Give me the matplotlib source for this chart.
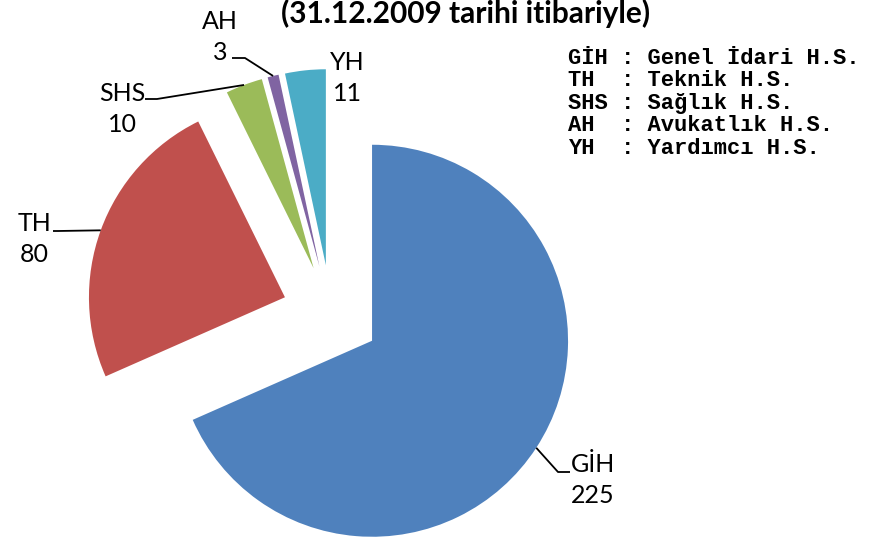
import numpy as np
import matplotlib.pyplot as plt

labels = ['GİH', 'TH', 'SHS', 'AH', 'YH']
values = [225, 80, 10, 3, 11]
colors = ['#4F81BD', '#C0504D', '#9BBB59', '#8064A2', '#4BACC6']
legend_lines = ['GİH : Genel İdari H.S.',
                'TH  : Teknik H.S.',
                'SHS : Sağlık H.S.',
                'AH  : Avukatlık H.S.',
                'YH  : Yardımcı H.S.']
title = '(31.12.2009 tarihi itibariyle)'

W, H = 875, 541
fig = plt.figure(figsize=(W / 100, H / 100), dpi=100)
ax = fig.add_axes([0, 0, 1, 1])

center = (331, H - 314)
radius = 196
# matplotlib's explode is in data units, so scale by the radius
wedges, _ = ax.pie(values, colors=colors, explode=[0.25 * radius] * len(values),
                   startangle=90, counterclock=False,
                   center=center, radius=radius,
                   wedgeprops=dict(linewidth=0))
ax.set_xlim(0, W)
ax.set_ylim(0, H)
ax.set_aspect('equal')
ax.axis('off')

lab_font = ['Lato', 'DejaVu Sans']
# label layout (screen px): text centre, leader elbow, leader end
layout = {
    'GİH': dict(text=(593, 480), elbow=(558, 472), end=(570, 472)),
    'TH': dict(text=(34, 239), elbow=(58, 231), end=(53, 231)),
    'SHS': dict(text=(122, 109), elbow=(157, 99), end=(145, 99)),
    'AH': dict(text=(220, 37), elbow=(245, 58), end=(232, 58)),
    'YH': dict(text=(347, 78), elbow=None, end=None),
}

for w, lab, val in zip(wedges, labels, values):
    lay = layout[lab]
    tx, ty = lay['text']
    ax.text(tx, H - ty, f'{lab}\n{val}', ha='center', va='center',
            fontsize=18, family=lab_font, linespacing=1.45, color='black')
    if lay['elbow'] is not None:
        mid = np.deg2rad((w.theta1 + w.theta2) / 2)
        cx, cy = w.center
        px, py = cx + w.r * np.cos(mid), cy + w.r * np.sin(mid)
        ex, ey = lay['elbow']
        nx, ny = lay['end']
        ax.plot([px, ex, nx], [py, H - ey, H - ny], color='black', lw=1.3,
                solid_capstyle='butt')

for i, line in enumerate(legend_lines):
    ax.text(568, H - (58 + 22.5 * i), line, ha='left', va='center',
            fontsize=15.9, family='Liberation Mono', fontweight='bold')

ax.text(466, H - 13, title, ha='center', va='center', fontsize=21.5,
        fontweight='bold', family=lab_font)

fig.savefig('out.png', dpi=100)
